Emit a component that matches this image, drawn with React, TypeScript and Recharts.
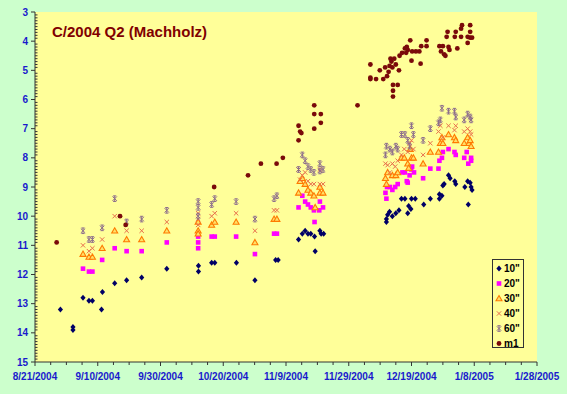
import { CartesianGrid, Scatter, ScatterChart, XAxis, YAxis } from "recharts";

// x = days since 8/21/2004, y = magnitude
const s10: [number, number][] = [
  [8.1, 13.2], [12.1, 13.8], [12.1, 13.9], [15.3, 12.8], [17.2, 12.9], [18.3, 12.9], [21.2, 13.2], [21.5, 12.6],
  [25.4, 12.3], [29.2, 12.2], [34, 12.1], [42, 11.8], [52.1, 11.7], [52.1, 11.9], [56.3, 11.6], [57.3, 11.6],
  [64.2, 11.6], [70.1, 12.2], [76.7, 11.5], [77.5, 11.5], [84, 10.8], [85.2, 10.6], [86.1, 10.5], [87, 10.6],
  [87.9, 10.6], [89.1, 10.7], [89.3, 11.2], [90.8, 10.5], [91.2, 10.6], [92, 10.6],
  [112, 10.1], [112, 10.2], [112.4, 9.95], [113, 9.85], [113.9, 10], [115, 9.9], [116, 9.8], [116.8, 9.4],
  [117.9, 9.4], [118.8, 9.9], [119.1, 9.65], [119.8, 9.75], [120, 9.4], [121.2, 9.4], [123.9, 9.6], [126, 9.4],
  [128.9, 9.4], [128.9, 9.25], [129.7, 9.3], [130, 8.95], [130.4, 8.9], [131.8, 8.6], [132.3, 8.7], [133.8, 8.8],
  [134.1, 8.9], [137, 9], [137.9, 8.8], [138.1, 9.6], [138.7, 8.85], [139, 9], [139.3, 9.1],
];

const s20: [number, number][] = [
  [15.3, 11.8], [17.2, 11.9], [18.3, 11.9], [21.4, 11.5], [25.4, 11.1], [29.2, 11.2], [34, 11.2], [42, 10.9],
  [52, 10.7], [52, 10.9], [52, 11.1], [56.3, 10.7], [57.3, 10.7], [64.1, 10.7], [70.1, 11.3], [76.2, 10.6],
  [77.1, 10.6], [84, 9.7], [85.2, 9.3], [86.1, 9.5], [87, 9.6], [87.9, 9.7], [88.9, 9.8], [89.1, 10.2],
  [90.8, 9.5], [90.6, 9.8], [91.8, 9.7],
  [111.7, 9.2], [112, 9.4], [112.2, 9], [113.1, 9], [113.9, 9.1], [114.8, 9], [115.6, 8.9], [117.1, 8.5],
  [117.9, 8.5], [118.5, 8.8], [118.8, 8.85], [119.4, 8.6], [119.9, 8.4], [120.2, 8.3], [120.8, 8.5], [123.7, 8.7],
  [126, 8.37], [128.6, 8.37], [128.9, 8.1], [129.7, 8], [130, 7.8], [131.8, 7.7], [133.7, 7.8], [134.1, 7.9],
  [136.8, 8], [137.6, 7.8], [138.1, 8.2], [139, 8], [139, 8.1],
];

const s30: [number, number][] = [
  [15.3, 11.3], [17.2, 11.4], [18.3, 11.4], [21.4, 11.1], [25.4, 10.5], [29.2, 10.8], [34, 10.8], [42, 10.5],
  [52, 10.2], [52, 10.5], [52, 10.6], [56.3, 10.3], [57.3, 10.2], [64.1, 10.2], [70.1, 10.9], [76.2, 10.1],
  [77.1, 10.1], [84, 9.2], [84.5, 8.8], [85.2, 8.7], [86.1, 8.9], [87, 9.1], [87.9, 9.2], [88.9, 9.3],
  [89.3, 9.7], [90.8, 9], [90.8, 9.2], [91.8, 9.2],
  [111.7, 8.7], [112, 8.9], [112.4, 8.5], [113.9, 8.6], [115, 8.6], [115.6, 8.5], [116.8, 8], [117.7, 8],
  [118.8, 8.2], [119.1, 8.35], [119.6, 7.7], [120, 8], [120.6, 8], [123.7, 8.2], [126, 7.8], [128.6, 7.8],
  [129.2, 7.5], [129.7, 7.3], [130, 7.5], [131.8, 7.2], [133.7, 7.3], [134.1, 7.4], [136.8, 7.5], [137.9, 7.3],
  [138.3, 7.5], [138.7, 7.4], [139, 7.6],
];

const s40: [number, number][] = [
  [15.3, 11], [17.2, 11.2], [18.3, 11.1], [21.4, 10.8], [25.4, 10], [29.2, 10.5], [34, 10.5], [42, 10.2],
  [52, 9.9], [52, 10.1], [52, 10.3], [56.3, 10], [57.3, 9.9], [64.1, 9.9], [70.1, 10.5], [76.2, 9.8],
  [77.1, 9.8], [84, 8.4], [84.5, 8.75], [85.2, 8.6], [86.1, 8.5], [87, 8.8], [87.9, 8.9], [88.9, 8.9],
  [90.8, 8.9], [91.8, 8.9], [90.8, 8.4],
  [111.7, 8.2], [112.4, 8.25], [113.1, 8.5], [113.9, 8.2], [114.8, 8.3], [115.6, 8.1], [116.8, 7.9], [117.7, 7.7],
  [118.8, 7.8], [119.4, 7.5], [120, 7.4], [120.6, 7.7], [123.7, 7.9], [126, 7.5], [128.6, 7.1], [129.2, 6.9],
  [130, 7.3], [131.8, 6.9], [133.7, 7.05], [134.1, 6.9], [136.8, 7.1], [137.9, 7], [138.7, 7.1], [139, 7.2],
];

const s60: [number, number][] = [
  [15.3, 10.5], [17.2, 10.8], [18.3, 10.8], [21.4, 10.4], [25.4, 9.4], [29.2, 10.2], [34, 10.1], [42, 9.8],
  [52, 9.5], [52, 9.7], [52, 10], [56.3, 9.6], [57.3, 9.4], [64.1, 9.5], [70.1, 10.1], [76.2, 9.4],
  [77.1, 9.3], [84, 8.4], [85.2, 7.9], [86.1, 8.1], [87, 8.3], [87.9, 8.4], [88.9, 8.5], [90.8, 8.2],
  [90.8, 8.45], [91.8, 8.4],
  [111.7, 7.9], [112, 7.6], [113.1, 7.7], [113.9, 7.8], [115, 7.6], [115.6, 7.7], [116.8, 7.2], [117.9, 7.2],
  [118.8, 7.4], [119.4, 7.6], [120, 6.9], [120.6, 7.2], [123.7, 7.4], [126, 7], [128.6, 6.8], [129.2, 6.7],
  [129.7, 6.3], [131.8, 6.4], [133.7, 6.4], [134.1, 6.6], [136.8, 6.7], [137.9, 6.5], [138.7, 6.6], [139, 6.7],
];

const sM1: [number, number][] = [
  [6.9, 10.9], [27.1, 10], [28.9, 10.3], [57.1, 9], [67.9, 8.6], [72, 8.2], [77, 8.2], [79, 8],
  [84, 6.9], [84, 7.4], [84.5, 7.1], [84.9, 7.15], [89, 6.2], [89, 6.5], [91.1, 6.5], [89, 7], [91.1, 6.8],
  [102.8, 6.2],
  [106.9, 4.8], [106.9, 5.25], [106.9, 5.3], [108.7, 5.3], [109.9, 5], [111, 5.3], [111.6, 4.9], [112.2, 5.2],
  [112.7, 5.05], [113, 4.85], [113.3, 4.6], [113.6, 4.7], [113.9, 4.9], [114.1, 5.5], [114.1, 5.7], [114.1, 5.9],
  [114.5, 4.6], [115, 4.8], [115.6, 5.5], [116, 5], [116.2, 4.5], [117, 4.4], [117.9, 4.25], [118.3, 4.4],
  [118.5, 4.2], [118.8, 4.3], [119.6, 3.97], [120, 4.67], [120.2, 4.35], [121.4, 4.35], [122.5, 4.35], [122.9, 4.77],
  [123.1, 4.17], [124.8, 3.97], [124.8, 4.17], [128.9, 4.17], [129.4, 4.35], [130, 4.17], [130.4, 4.45], [130.8, 4.5],
  [131.2, 3.85], [131.5, 3.68], [131.8, 4.2], [132.1, 4.3], [133.8, 3.85], [134.1, 3.68], [134.6, 4.25], [135.8, 3.57],
  [136.1, 3.45], [135.8, 3.85], [137.9, 4.06], [137.9, 3.85], [138.7, 3.45], [138.7, 3.68], [138.7, 3.88], [139.3, 3.88],
];

const seriesNames = ['10"', '20"', '30"', '40"', '60"', "m1"];
const xTicks = Array.from({ length: 33 }, (_, i) => i * 5);
const yTicks = Array.from({ length: 121 }, (_, i) => 3 + i / 10);

const font = "Arial, 'Liberation Sans', sans-serif";
const labelColor = "#1a1acc";
const axisColor = "#333";

const toPoints = (rows: [number, number][]) => rows.map(([x, y]) => ({ x, y }));

const fmtDate = (d: number) => {
  const t = new Date(Date.UTC(2004, 7, 21) + d * 864e5);
  return `${t.getUTCMonth() + 1}/${t.getUTCDate()}/${t.getUTCFullYear()}`;
};

const diamond = (cx: number, cy: number) => (
  <path d={`M${cx},${cy - 3}L${cx + 2.6},${cy}L${cx},${cy + 3}L${cx - 2.6},${cy}Z`} fill="#000066" />
);
const square = (cx: number, cy: number) => (
  <rect fill="#ff00ff" height={4.6} width={4.6} x={cx - 2.3} y={cy - 2.3} />
);
const triangle = (cx: number, cy: number) => (
  <path d={`M${cx},${cy - 3}L${cx + 3},${cy + 2.3}L${cx - 3},${cy + 2.3}Z`} fill="#ffe066" stroke="#ff7a00" strokeWidth={1.1} />
);
const cross = (cx: number, cy: number) => (
  <path d={`M${cx - 2.2},${cy - 2.2}L${cx + 2.2},${cy + 2.2}M${cx + 2.2},${cy - 2.2}L${cx - 2.2},${cy + 2.2}`} stroke="#e8704e" strokeWidth={1} />
);
const star = (cx: number, cy: number) => (
  <path
    d={`M${cx - 2.2},${cy - 2.2}L${cx + 2.2},${cy + 2.2}M${cx + 2.2},${cy - 2.2}L${cx - 2.2},${cy + 2.2}M${cx},${cy - 2.8}L${cx},${cy + 2.8}M${cx - 1.6},${cy - 2.8}L${cx + 1.6},${cy - 2.8}M${cx - 1.6},${cy + 2.8}L${cx + 1.6},${cy + 2.8}`}
    stroke="#8c6c8c"
    strokeWidth={1}
  />
);
const dot = (cx: number, cy: number) => <circle cx={cx} cy={cy} fill="#7a0a0a" r={2.4} />;

const markers = [diamond, square, triangle, cross, star, dot];
const seriesData = [s10, s20, s30, s40, s60, sM1];

function XTick({ x, y, payload }: any) {
  const major = payload.value % 20 === 0;
  return (
    <g>
      <line stroke={axisColor} x1={x} x2={x} y1={y} y2={y + (major ? 4 : 3)} />
      {major && (
        <text fill={labelColor} fontFamily={font} fontSize={10} fontWeight="bold" textAnchor="middle" x={x} y={y + 18}>
          {fmtDate(payload.value)}
        </text>
      )}
    </g>
  );
}

function YTick({ x, y, payload }: any) {
  const v = payload.value;
  const major = Math.abs(v - Math.round(v)) < 1e-6;
  return (
    <g>
      {major ? (
        <line stroke={axisColor} x1={x - 4} x2={x} y1={y} y2={y} />
      ) : (
        <line stroke={axisColor} x1={x} x2={x + 2.5} y1={y} y2={y} />
      )}
      {major && (
        <text fill={labelColor} fontFamily={font} fontSize={10} fontWeight="bold" textAnchor="end" x={x - 7} y={y + 3.5}>
          {Math.round(v)}
        </text>
      )}
    </g>
  );
}

export default function App() {
  return (
    <div style={{ position: "absolute", left: 0, top: 0, width: 567, height: 394, background: "#ccffcc", fontFamily: font }}>
      <ScatterChart height={394} margin={{ top: 12, right: 30, bottom: 10, left: 0 }} width={567}>
        <CartesianGrid fill="#ffff99" fillOpacity={1} horizontal={false} stroke="none" vertical={false} />
        <XAxis
          allowDataOverflow
          dataKey="x"
          domain={[0, 160]}
          height={22}
          interval={0}
          stroke={axisColor}
          tick={<XTick />}
          tickLine={false}
          tickMargin={0}
          tickSize={0}
          ticks={xTicks}
          type="number"
        />
        <YAxis
          allowDataOverflow
          dataKey="y"
          domain={[3, 15]}
          interval={0}
          reversed
          stroke={axisColor}
          tick={<YTick />}
          tickLine={false}
          tickMargin={0}
          tickSize={0}
          ticks={yTicks}
          type="number"
          width={35}
        />
        {seriesData.map((rows, i) => (
          <Scatter
            data={toPoints(rows)}
            isAnimationActive={false}
            key={seriesNames[i]}
            name={seriesNames[i]}
            shape={(p: any) => markers[i](p.cx, p.cy)}
          />
        ))}
      </ScatterChart>
      <div style={{ position: "absolute", left: 52, top: 23, color: "#800000", fontSize: 15, fontWeight: "bold" }}>
        C/2004 Q2 (Machholz)
      </div>
      <div
        style={{
          position: "absolute",
          left: 492,
          top: 259,
          width: 30,
          height: 87,
          border: "1px solid #333",
          background: "#ffff99",
        }}
      >
        {seriesNames.map((name, i) => (
          <div key={name} style={{ position: "absolute", left: 0, top: 1 + i * 15, height: 15, width: 30 }}>
            <svg height={15} style={{ position: "absolute", left: 2, top: 0 }} width={8}>
              {markers[i](4, 7.5)}
            </svg>
            <span style={{ position: "absolute", left: 11, top: 1, fontSize: 10, fontWeight: "bold", color: "#000", lineHeight: "13px" }}>
              {name}
            </span>
          </div>
        ))}
      </div>
    </div>
  );
}
